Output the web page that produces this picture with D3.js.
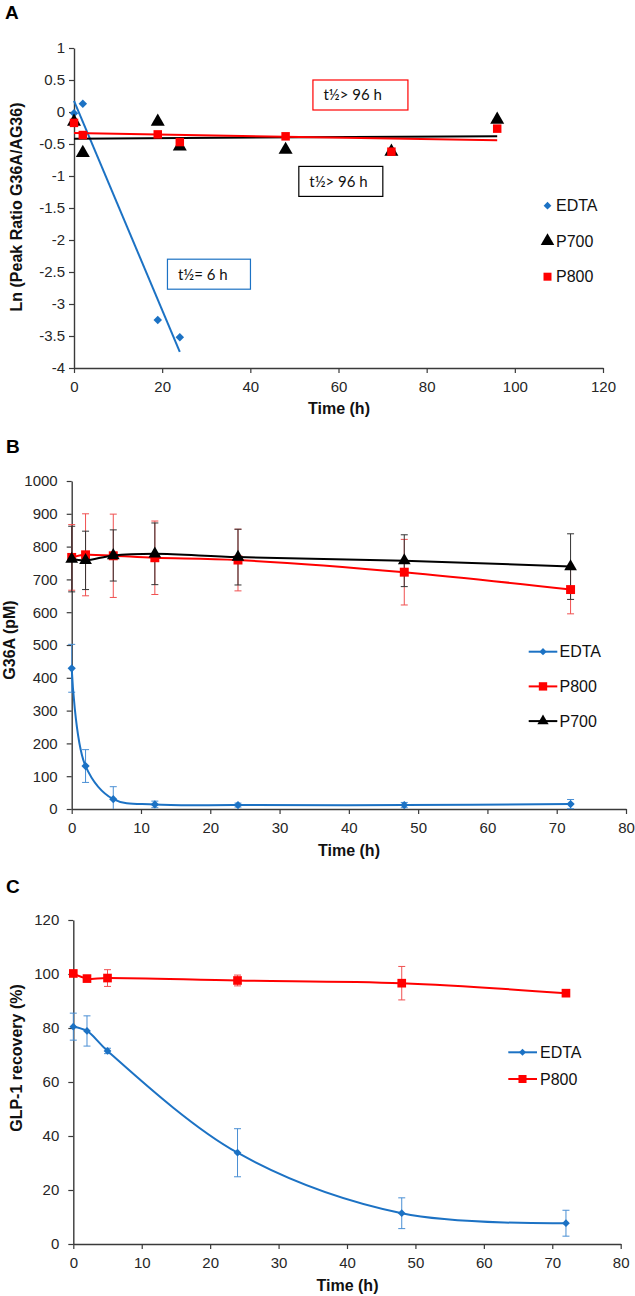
<!DOCTYPE html>
<html><head><meta charset="utf-8">
<script src="https://cdn.jsdelivr.net/npm/d3@7"></script>
<style>
html,body{margin:0;padding:0;background:#fff;}
svg{display:block;font-family:"Liberation Sans",Arial,sans-serif;}
</style></head>
<body><svg id="chart" width="635" height="1296"></svg>
<script>
// ---------- DATA ----------
// Panel A : ln(peak ratio) vs time
const timeA_EDTA = [0, 2, 19, 24];
const lnA_EDTA   = [-0.02, 0.13, -3.25, -3.52];
const timeA      = [0, 2, 19, 24, 48, 72, 96];
const lnA_P700   = [-0.15, -0.64, -0.15, -0.54, -0.59, -0.62, -0.12];
const lnA_P800   = [-0.17, -0.36, -0.35, -0.47, -0.38, -0.62, -0.26];
const ticksA_x   = [0, 20, 40, 60, 80, 100, 120];
const ticksA_y   = [1, 0.5, 0, -0.5, -1, -1.5, -2, -2.5, -3, -3.5, -4];
const halfLifeLabels = ["t½> 96 h", "t½> 96 h", "t½= 6 h"];

// Panel B : G36A (pM) vs time
const timeB      = [0, 2, 6, 12, 24, 48, 72];
const g36a_EDTA  = [429, 131, 30, 14, 12, 12, 15];
const g36a_EDTA_err = [73, 50, 38, 10, 6, 8, 14];
const g36a_P800  = [767, 775, 772, 766, 759, 722, 669];
const g36a_P800_err = [100, 125, 127, 112, 94, 100, 74];
const g36a_P700  = [762, 758, 773, 778, 768, 757, 739];
const g36a_P700_err = [100, 89, 78, 94, 85, 79, 100];
const ticksB_x   = [0, 10, 20, 30, 40, 50, 60, 70, 80];
const ticksB_y   = [0, 100, 200, 300, 400, 500, 600, 700, 800, 900, 1000];

// Panel C : GLP-1 recovery (%) vs time
const timeC      = [0, 2, 5, 24, 48, 72];
const glp_EDTA   = [80.5, 78.9, 71.5, 33.8, 11.4, 7.7];
const glp_EDTA_err = [5, 5.6, 1, 8.9, 5.7, 4.8];
const glp_P800   = [100.2, 98.3, 98.5, 97.6, 96.6, 92.9];
const glp_P800_err = [0.5, 1, 3.1, 2, 6.2, 0.5];
const ticksC_x   = [0, 10, 20, 30, 40, 50, 60, 70, 80];
const ticksC_y   = [0, 20, 40, 60, 80, 100, 120];

// ---------- STYLE ----------
const BLUE = "#1c72c4", RED = "#ff0000", BLACK = "#000000";
const AXIS = "#3a3a3a";
const svg = d3.select("#chart");

const rhombus = { draw(ctx, size){ const r = Math.sqrt(size/2);
  ctx.moveTo(0,-r); ctx.lineTo(r,0); ctx.lineTo(0,r); ctx.lineTo(-r,0); ctx.closePath(); } };

function zipXY(xs, ys, es){ return xs.map((x,i)=>({x, y: ys[i], e: es ? es[i] : 0})); }

function symbolFor(kind){
  return kind==="diamond" ? rhombus : kind==="square" ? d3.symbolSquare : d3.symbolTriangle;
}

function drawAxes(g, x, y, xt, yt, yPad){
  const ax = g.append("g").attr("transform", `translate(0,${y.range()[0]})`)
    .call(d3.axisBottom(x).tickValues(xt).tickSize(5).tickPadding(8).tickSizeOuter(0).tickFormat(d=>String(d)));
  const ay = g.append("g").attr("transform", `translate(${x.range()[0]},0)`)
    .call(d3.axisLeft(y).tickValues(yt).tickSize(5).tickPadding(yPad).tickSizeOuter(0).tickFormat(d=>String(d)));
  [ax, ay].forEach(a=>{
    a.select(".domain").attr("stroke", AXIS).attr("stroke-width", 1.4);
    a.selectAll(".tick line").attr("stroke", AXIS).attr("stroke-width", 1.2);
    a.selectAll(".tick text").attr("fill", "#262626").style("font-size", "15px")
      .style("font-family", '"Liberation Sans", Arial, sans-serif');
  });
}

function axisTitles(xLabel, xPos, yLabel, yPos){
  svg.append("text").attr("x", xPos[0]).attr("y", xPos[1]).attr("text-anchor","middle")
    .style("font-size","16px").style("font-weight","bold").attr("fill","#111").text(xLabel);
  svg.append("text").attr("transform", `translate(${yPos[0]},${yPos[1]}) rotate(-90)`)
    .attr("text-anchor","middle").attr("dy","0.35em")
    .style("font-size","16px").style("font-weight","bold").attr("fill","#111").text(yLabel);
}

function panelLetter(t, x, y){
  svg.append("text").attr("x", x).attr("y", y).style("font-size","19px")
    .style("font-weight","bold").attr("fill","#000").text(t);
}

function drawMarkers(g, pts, x, y, kind, size, color){
  g.selectAll(null).data(pts).enter().append("path")
    .attr("transform", d=>`translate(${x(d.x)},${y(d.y)})`)
    .attr("d", d3.symbol().type(symbolFor(kind)).size(size))
    .attr("fill", color);
}

function drawErr(g, pts, x, y, color, w){
  const cap = 3.5;
  pts.forEach(d=>{
    const px = x(d.x), t = y(d.y + d.e), b = y(Math.max(d.y - d.e, y.domain()[0]));
    g.append("line").attr("x1",px).attr("x2",px).attr("y1",t).attr("y2",b).attr("stroke",color).attr("stroke-width",w||1);
    g.append("line").attr("x1",px-cap).attr("x2",px+cap).attr("y1",t).attr("y2",t).attr("stroke",color).attr("stroke-width",w||1);
    if (d.y - d.e >= y.domain()[0])
      g.append("line").attr("x1",px-cap).attr("x2",px+cap).attr("y1",b).attr("y2",b).attr("stroke",color).attr("stroke-width",w||1);
  });
}

function linFit(xs, ys){
  const n = xs.length, mx = d3.mean(xs), my = d3.mean(ys);
  let sxy=0, sxx=0;
  for(let i=0;i<n;i++){ sxy += (xs[i]-mx)*(ys[i]-my); sxx += (xs[i]-mx)**2; }
  const b = sxy/sxx, a = my - b*mx;
  return t => a + b*t;
}

// ================= PANEL A =================
{
  const x = d3.scaleLinear().domain([0,120]).range([74, 603]);
  const y = d3.scaleLinear().domain([-4,1]).range([368, 48]);
  const g = svg.append("g");
  drawAxes(g, x, y, ticksA_x, ticksA_y, 4);

  const series = [
    {xs: timeA_EDTA, ys: lnA_EDTA, kind:"diamond", size:36, color: BLUE, lc: BLUE},
    {xs: timeA, ys: lnA_P700, kind:"triangle", size:85, color: BLACK, lc: BLACK},
    {xs: timeA, ys: lnA_P800, kind:"square", size:72, color: RED, lc: RED},
  ];
  series.forEach(s=>{
    const f = linFit(s.xs, s.ys);
    const x0 = d3.min(s.xs), x1 = d3.max(s.xs);
    g.append("line").attr("x1", x(x0)).attr("y1", y(f(x0))).attr("x2", x(x1)).attr("y2", y(f(x1)))
      .attr("stroke", s.lc).attr("stroke-width", 2);
  });
  series.forEach(s=> drawMarkers(g, zipXY(s.xs, s.ys), x, y, s.kind, s.size, s.color));

  // half-life annotation boxes (layout in data space)
  const boxes = [
    {label: halfLifeLabels[0], color: RED,   x0: 54.2, y0: 0.5,  w: 95, h: 30},
    {label: halfLifeLabels[1], color: BLACK, x0: 51,   y0: -0.85, w: 84, h: 30},
    {label: halfLifeLabels[2], color: BLUE,  x0: 21.2, y0: -2.3, w: 83, h: 30},
  ];
  boxes.forEach(b=>{
    const bx = x(b.x0), by = y(b.y0);
    g.append("rect").attr("x", bx).attr("y", by).attr("width", b.w).attr("height", b.h)
      .attr("fill","#fff").attr("stroke", b.color).attr("stroke-width", 1.2);
    g.append("text").attr("x", bx+10.5).attr("y", by+b.h/2).attr("dy","0.36em")
      .style("font-family","Lato, 'Open Sans', sans-serif").style("font-size","15px")
      .attr("fill","#111").text(b.label);
  });

  const leg = [
    {name:"EDTA", kind:"diamond", size:30, color:BLUE},
    {name:"P700", kind:"triangle", size:80, color:BLACK},
    {name:"P800", kind:"square", size:64, color:RED},
  ];
  leg.forEach((l,i)=>{
    const ly = 205.7 + i*35.5;
    g.append("path").attr("transform",`translate(547.5,${ly})`).attr("d", d3.symbol().type(symbolFor(l.kind)).size(l.size)).attr("fill", l.color);
    g.append("text").attr("x", 556).attr("y", ly).attr("dy","0.36em").style("font-size","16px").attr("fill","#111").text(l.name);
  });

  panelLetter("A", 5, 19);
  axisTitles("Time (h)", [339, 414], "Ln (Peak Ratio G36A/AG36)", [16, 207]);
}

// ================= PANEL B =================
{
  const x = d3.scaleLinear().domain([0,80]).range([71.7, 626]);
  const y = d3.scaleLinear().domain([0,1000]).range([809, 481]);
  const g = svg.append("g");
  drawAxes(g, x, y, ticksB_x, ticksB_y, 9);
  const line = d3.line().x(d=>x(d.x)).y(d=>y(d.y)).curve(d3.curveCatmullRom.alpha(0.5));

  const series = [
    {ys: g36a_EDTA, es: g36a_EDTA_err, kind:"diamond", size:34, color: BLUE, ec: "#4a8fd4"},
    {ys: g36a_P800, es: g36a_P800_err, kind:"square", size:80, color: RED, ec: "#f05050"},
    {ys: g36a_P700, es: g36a_P700_err, kind:"triangle", size:70, color: BLACK, ec: "#333"},
  ];
  series.forEach(s=> drawErr(g, zipXY(timeB, s.ys, s.es), x, y, s.ec, 1));
  series.forEach(s=>{
    const pts = zipXY(timeB, s.ys, s.es);
    g.append("path").datum(pts).attr("d", line).attr("fill","none").attr("stroke", s.color).attr("stroke-width", 2);
    drawMarkers(g, pts, x, y, s.kind, s.size, s.color);
  });

  const leg = [
    {name:"EDTA", kind:"diamond", size:26, color:BLUE},
    {name:"P800", kind:"square", size:70, color:RED},
    {name:"P700", kind:"triangle", size:55, color:BLACK},
  ];
  leg.forEach((l,i)=>{
    const ly = 651.7 + i*34.7;
    g.append("line").attr("x1",528.7).attr("x2",557.3).attr("y1",ly).attr("y2",ly).attr("stroke",l.color).attr("stroke-width",2);
    g.append("path").attr("transform",`translate(543,${ly})`).attr("d", d3.symbol().type(symbolFor(l.kind)).size(l.size)).attr("fill", l.color);
    g.append("text").attr("x", 559.5).attr("y", ly).attr("dy","0.36em").style("font-size","16px").attr("fill","#111").text(l.name);
  });

  panelLetter("B", 6, 453);
  axisTitles("Time (h)", [349, 856], "G36A (pM)", [9, 640]);
}

// ================= PANEL C =================
{
  const x = d3.scaleLinear().domain([0,80]).range([73.3, 620.7]);
  const y = d3.scaleLinear().domain([0,120]).range([1244, 920]);
  const g = svg.append("g");
  drawAxes(g, x, y, ticksC_x, ticksC_y, 9);
  const line = d3.line().x(d=>x(d.x)).y(d=>y(d.y)).curve(d3.curveCatmullRom.alpha(0.5));

  const series = [
    {ys: glp_EDTA, es: glp_EDTA_err, kind:"diamond", size:30, color: BLUE, ec: "#4a8fd4"},
    {ys: glp_P800, es: glp_P800_err, kind:"square", size:75, color: RED, ec: "#f05050"},
  ];
  series.forEach(s=>{
    const pts = zipXY(timeC, s.ys, s.es);
    drawErr(g, pts, x, y, s.ec, 1);
    g.append("path").datum(pts).attr("d", line).attr("fill","none").attr("stroke", s.color).attr("stroke-width", 2);
    drawMarkers(g, pts, x, y, s.kind, s.size, s.color);
  });

  const leg = [
    {name:"EDTA", kind:"diamond", size:24, color:BLUE},
    {name:"P800", kind:"square", size:65, color:RED},
  ];
  leg.forEach((l,i)=>{
    const ly = 1052.3 + i*26.7;
    g.append("line").attr("x1",508.3).attr("x2",537).attr("y1",ly).attr("y2",ly).attr("stroke",l.color).attr("stroke-width",2);
    g.append("path").attr("transform",`translate(522.5,${ly})`).attr("d", d3.symbol().type(symbolFor(l.kind)).size(l.size)).attr("fill", l.color);
    g.append("text").attr("x", 540).attr("y", ly).attr("dy","0.36em").style("font-size","16px").attr("fill","#111").text(l.name);
  });

  panelLetter("C", 6, 893);
  axisTitles("Time (h)", [347.5, 1291], "GLP-1 recovery (%)", [16, 1058]);
}
</script></body></html>
